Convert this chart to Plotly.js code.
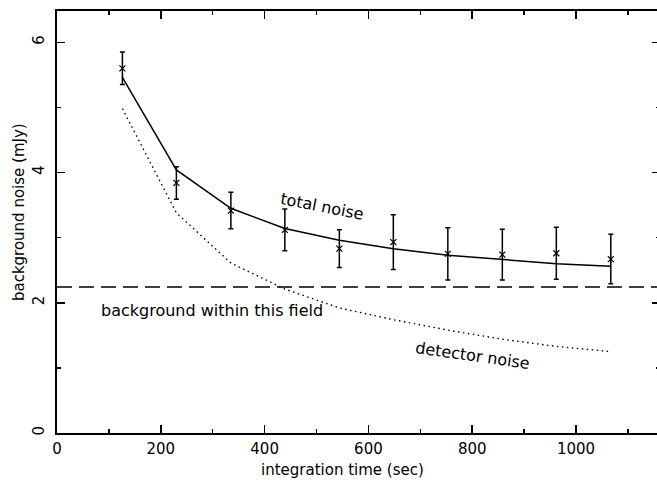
<!DOCTYPE html>
<html>
<head>
<meta charset="utf-8">
<script src="https://cdn.plot.ly/plotly-3.0.1.min.js"></script>
<style>html,body{margin:0;padding:0;background:#fff;}#chart{width:657px;height:481px;}</style>
</head>
<body>
<div id="chart"></div>
<script>
// Integration times (sec)
const integrationTime = [126, 230, 335, 439, 544, 648, 753, 858, 962, 1067];
// Measured background noise (mJy) and 1-sigma errors
const measuredNoise = [5.60, 3.84, 3.415, 3.12, 2.83, 2.93, 2.75, 2.74, 2.76, 2.67];
const measuredErr   = [0.25, 0.25, 0.28, 0.32, 0.29, 0.42, 0.40, 0.39, 0.40, 0.38];
// Model curves (mJy)
const totalNoise    = [5.46, 4.04, 3.45, 3.14, 2.96, 2.83, 2.73, 2.66, 2.60, 2.56];
const detectorNoise = [4.98, 3.38, 2.61, 2.21, 1.92, 1.74, 1.58, 1.44, 1.33, 1.25];
// Background level within this field (mJy)
const backgroundLevel = 2.24;
// Tick values
const xMajorTicks = [0, 200, 400, 600, 800, 1000];
const yMajorTicks = [0, 2, 4, 6];

const FONT = 'DejaVu Sans, sans-serif';

const traces = [
  {
    x: integrationTime, y: totalNoise, mode: 'lines',
    line: {color: '#000', width: 1.5}, hoverinfo: 'skip', showlegend: false
  },
  {
    x: integrationTime, y: detectorNoise, mode: 'lines',
    line: {color: '#000', width: 1.4, dash: '1.5px,3.5px'}, hoverinfo: 'skip', showlegend: false
  },
  {
    x: integrationTime, y: measuredNoise, mode: 'markers',
    marker: {symbol: 'x-thin', size: 6, color: '#000', line: {color: '#000', width: 1.2}},
    error_y: {type: 'data', array: measuredErr, visible: true, color: '#000', thickness: 1.5, width: 2.5},
    showlegend: false
  },
  { x: [], y: [], yaxis: 'y2', showlegend: false, hoverinfo: 'skip' }
];

const layout = {
  width: 657, height: 481,
  margin: {l: 57, r: 0, t: 11, b: 48, pad: 0},
  paper_bgcolor: '#fff', plot_bgcolor: '#fff',
  showlegend: false,
  font: {family: FONT, size: 14, color: '#000'},
  xaxis: {
    range: [0, 1156], tickmode: 'array', tickvals: xMajorTicks, ticktext: xMajorTicks.map(String),
    ticks: 'inside', ticklen: 8, tickwidth: 1.5, tickcolor: '#000',
    minor: {dtick: 100, ticks: 'inside', ticklen: 4, tickwidth: 1.5, tickcolor: '#000', showgrid: false},
    showline: true, linewidth: 2, linecolor: '#000', mirror: 'ticks',
    showgrid: false, zeroline: false,
    tickfont: {family: FONT, size: 15, color: '#000'}, ticklabelstandoff: 1
  },
  yaxis: {
    range: [0, 6.48], tickmode: 'array', tickvals: yMajorTicks, ticktext: yMajorTicks.map(String),
    tickangle: -90,
    ticks: 'inside', ticklen: 8, tickwidth: 1.5, tickcolor: '#000',
    minor: {dtick: 1, ticks: 'inside', ticklen: 4, tickwidth: 1.5, tickcolor: '#000', showgrid: false},
    showline: true, linewidth: 2, linecolor: '#000', mirror: false,
    showgrid: false, zeroline: false,
    tickfont: {family: FONT, size: 15, color: '#000'}, ticklabelstandoff: 5
  },
  yaxis2: {
    overlaying: 'y', side: 'right', anchor: 'x', range: [0, 6.48],
    tickmode: 'array', tickvals: yMajorTicks, showticklabels: false,
    ticks: 'inside', ticklen: 5, tickwidth: 1.5, tickcolor: '#000',
    minor: {dtick: 1, ticks: 'inside', ticklen: 1.5, tickwidth: 1.5, tickcolor: '#000', showgrid: false},
    showline: false, showgrid: false, zeroline: false
  },
  shapes: [
    {type: 'line', xref: 'paper', x0: 0, x1: 1, yref: 'y', y0: backgroundLevel, y1: backgroundLevel,
     line: {color: '#000', width: 1.5, dash: '15px,7px'}}
  ],
  annotations: [
    {text: 'total noise', x: 511, y: 3.48, xref: 'x', yref: 'y', showarrow: false, textangle: 11,
     font: {family: FONT, size: 16, color: '#000'}},
    {text: 'detector noise', x: 800, y: 1.19, xref: 'x', yref: 'y', showarrow: false, textangle: 8,
     font: {family: FONT, size: 16, color: '#000'}},
    {text: 'background within this field', x: 299, y: 1.88, xref: 'x', yref: 'y', showarrow: false,
     font: {family: FONT, size: 16, color: '#000'}},
    {text: 'integration time (sec)', xref: 'paper', yref: 'paper', x: 0.476, y: -0.087,
     xanchor: 'center', yanchor: 'middle', showarrow: false,
     font: {family: FONT, size: 15, color: '#000'}},
    {text: 'background noise (mJy)', xref: 'paper', yref: 'paper', x: -0.063, y: 0.524,
     xanchor: 'center', yanchor: 'middle', showarrow: false, textangle: -90,
     font: {family: FONT, size: 15, color: '#000'}}
  ]
};

Plotly.newPlot('chart', traces, layout, {staticPlot: true, displayModeBar: false});
</script>
</body>
</html>
